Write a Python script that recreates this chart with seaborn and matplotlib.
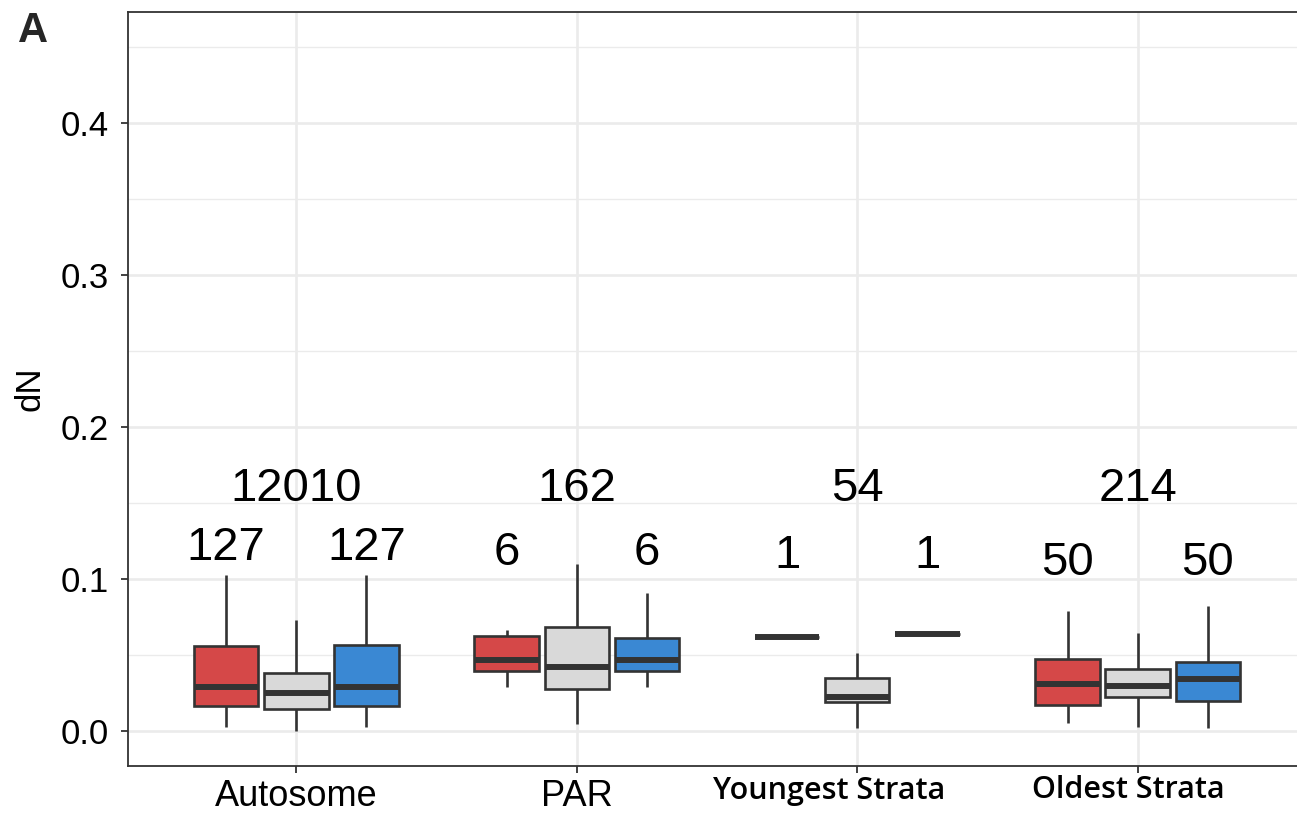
import numpy as np
import pandas as pd
import matplotlib
matplotlib.use("Agg")
import matplotlib.pyplot as plt
from matplotlib.transforms import ScaledTranslation
import seaborn as sns

# ---- data ----
categories = ["Autosome", "PAR", "Youngest Strata", "Oldest Strata"]
groups = ["A", "B", "C"]  # red, grey, blue

# five-number summaries: [lower whisker, Q1, median, Q3, upper whisker]
red_stats = [
    [0.0029, 0.0167, 0.0287, 0.0560, 0.1026],
    [0.0292, 0.0395, 0.0467, 0.0625, 0.0664],
    [0.0618],
    [0.0050, 0.0171, 0.0311, 0.0476, 0.0792],
]
grey_stats = [
    [0.0000, 0.0145, 0.0252, 0.0384, 0.0730],
    [0.0044, 0.0276, 0.0423, 0.0682, 0.1100],
    [0.0022, 0.0193, 0.0226, 0.0351, 0.0511],
    [0.0024, 0.0222, 0.0296, 0.0405, 0.0642],
]
blue_stats = [
    [0.0029, 0.0167, 0.0292, 0.0564, 0.1026],
    [0.0292, 0.0395, 0.0467, 0.0614, 0.0906],
    [0.0636],
    [0.0018, 0.0199, 0.0340, 0.0456, 0.0822],
]

total_counts = [12010, 162, 54, 214]
side_counts = [127, 6, 1, 50]
total_label_y = [0.1513, 0.1513, 0.1513, 0.1513]
side_label_y = [0.1125, 0.1092, 0.1072, 0.1026]

ytick_values = [0.0, 0.1, 0.2, 0.3, 0.4]

colors = ["#D54848", "#D9D9D9", "#3A88D3"]

# ---- build long table ----
rows = []
for g, stats in zip(groups, [red_stats, grey_stats, blue_stats]):
    for cat, s in zip(categories, stats):
        for v in s:
            rows.append({"category": cat, "group": g, "dN": v})
df = pd.DataFrame(rows)

# ---- plot ----
sns.set_theme(style="white")
plt.rcParams["font.family"] = ["Liberation Sans", "DejaVu Sans"]

W, H = 1297, 819
fig = plt.figure(figsize=(W / 100, H / 100), dpi=100)
ax = fig.add_axes([128 / W, (H - 766) / H, (1306 - 128) / W, (766 - 12) / H])

edge = "#333333"
sns.boxplot(
    data=df, x="category", y="dN", hue="group", order=categories,
    hue_order=groups, palette=colors, saturation=1, width=0.75, gap=0.08,
    whis=(0, 100), showcaps=False, showfliers=False, linecolor=edge,
    linewidth=1.9, legend=False, ax=ax,
    medianprops=dict(color=edge, linewidth=4.3, solid_capstyle="butt"),
    whiskerprops=dict(color=edge, linewidth=1.9),
    boxprops=dict(edgecolor=edge, linewidth=1.9),
)

ax.set_xlim(-0.6, 3.6)
ax.set_ylim(-0.023, 0.473)

# grid (ggplot theme_bw look)
ax.set_yticks(ytick_values)
ax.set_yticks(np.arange(0.05, 0.46, 0.1), minor=True)
ax.grid(True, which="major", axis="both", color="#EBEBEB", linewidth=1.9, zorder=0)
ax.grid(True, which="minor", axis="y", color="#EBEBEB", linewidth=1.0, zorder=0)
ax.set_axisbelow(True)
ax.tick_params(axis="y", which="minor", length=0)
for sp in ax.spines.values():
    sp.set_color(edge)
    sp.set_linewidth(1.3)

ax.set_yticklabels([f"{v:.1f}" for v in ytick_values], fontsize=25, color="black")
ax.tick_params(axis="both", which="major", direction="out", length=5, width=1.3,
               color=edge, bottom=True, left=True)
ax.tick_params(axis="y", pad=9)
ax.tick_params(axis="x", pad=4)
ax.set_xticks(range(len(categories)))
ax.set_xticklabels(categories, fontsize=26, color="black")

ax.set_xlabel("")
ax.set_ylabel("dN", fontsize=25, color="black", labelpad=10)

# count labels
off = 0.25
for i in range(len(categories)):
    ax.text(i, total_label_y[i], str(total_counts[i]), ha="center", va="baseline",
            fontsize=34, color="black")
    ax.text(i - off, side_label_y[i], str(side_counts[i]), ha="center", va="baseline",
            fontsize=34, color="black")
    ax.text(i + off, side_label_y[i], str(side_counts[i]), ha="center", va="baseline",
            fontsize=34, color="black")

fig.text(18 / W, 1 - 42 / H, "A", fontsize=30, fontweight="bold", ha="left", va="baseline")

# the last two category labels use a different face and sit slightly left/up
labs = ax.get_xticklabels()
shifts = {2: (-28, 3), 3: (-9, 3)}
for k, (dx, dy) in shifts.items():
    lab = labs[k]
    lab.set_fontfamily("Open Sans")
    lab.set_fontsize(22)
    lab.set_fontweight("semibold")
    lab.set_transform(lab.get_transform() +
                      ScaledTranslation(dx / 100, dy / 100, fig.dpi_scale_trans))

fig.savefig("out.png", dpi=100)
